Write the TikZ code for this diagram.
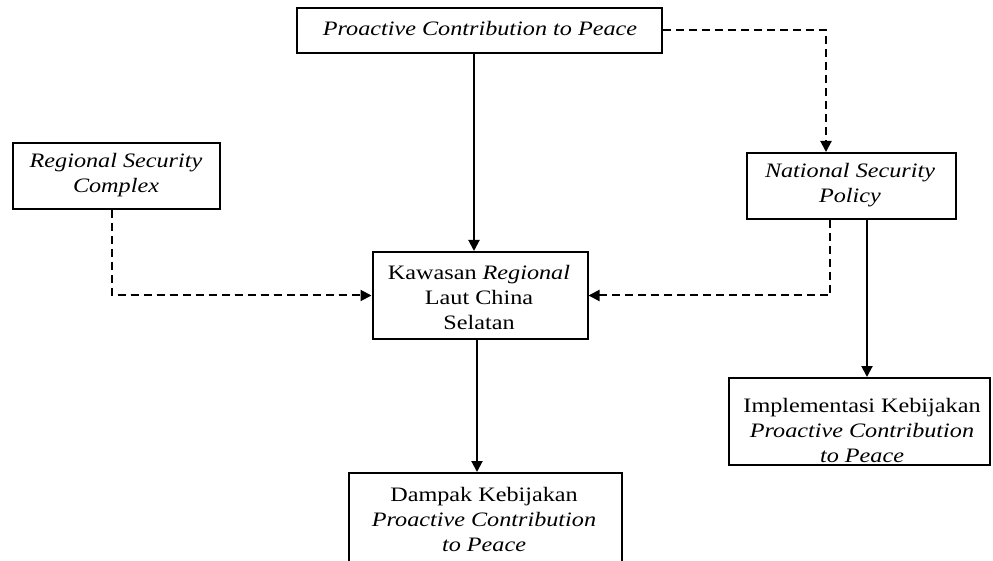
\documentclass[tikz,border=0pt]{standalone}
\usepackage{fontspec}
\setmainfont{Liberation Serif}[FakeStretch=1.18]
\usetikzlibrary{arrows.meta}
\begin{document}
\begin{tikzpicture}[x=1pt,y=1pt,
  boxnode/.style={draw=black, line width=2pt, fill=white, inner sep=0pt, minimum width=#1},
  txt/.style={inner sep=0pt, align=center, anchor=base, font=\fontsize{20.5}{25}\selectfont},
  conn/.style={line width=2pt, -{Triangle[length=11pt,width=11pt]}},
  dsh/.style={dash pattern=on 8pt off 5pt},
]
\useasboundingbox (0,0) rectangle (993,-561);
\clip (0,0) rectangle (993,-561);
\fill[white] (0,0) rectangle (993,-561);

% boxes
\node[boxnode=365, minimum height=45] (top) at (479.5,-30.5) {};
\node[boxnode=207, minimum height=66] (rsc) at (116.5,-176) {};
\node[boxnode=209, minimum height=66] (nsp) at (851.5,-186) {};
\node[boxnode=215, minimum height=87] (kaw) at (480,-295.5) {};
\node[boxnode=261, minimum height=87] (imp) at (859,-421.5) {};
\node[boxnode=273, minimum height=110] (dam) at (485.5,-528) {};

% texts (anchor base = baseline of the last line)
\node[txt] (ttop) at (480,-36) {\itshape Proactive Contribution to Peace};
\node[txt] (trsc) at (116,-193) {\itshape Regional Security\\\itshape Complex};
\node[txt] (tnsp) at (850,-203) {\itshape National Security\\\itshape Policy};
\node[txt] (tkaw) at (479,-329) {Kawasan \textit{Regional}\\Laut China\\Selatan};
\node[txt] (timp) at (862,-462) {Implementasi Kebijakan\\\itshape Proactive Contribution\\\itshape to Peace};
\node[txt] (tdam) at (484,-551) {Dampak Kebijakan\\\itshape Proactive Contribution\\\itshape to Peace};

% helper coordinates
\coordinate (c1) at (474,0);
\coordinate (c2) at (826,0);
\coordinate (c3) at (112,0);
\coordinate (c4) at (830,0);
\coordinate (c5) at (867,0);
\coordinate (c6) at (477,0);

% connectors
\draw[conn] (top.south -| c1) -- (kaw.north -| c1);
\draw[conn, dsh] (top.east) -| (nsp.north -| c2);
\draw[conn, dsh] (rsc.south -| c3) |- (kaw.west);
\draw[conn, dsh] (nsp.south -| c4) |- (kaw.east);
\draw[conn] (nsp.south -| c5) -- (imp.north -| c5);
\draw[conn] (kaw.south -| c6) -- (dam.north -| c6);
\end{tikzpicture}
\end{document}
